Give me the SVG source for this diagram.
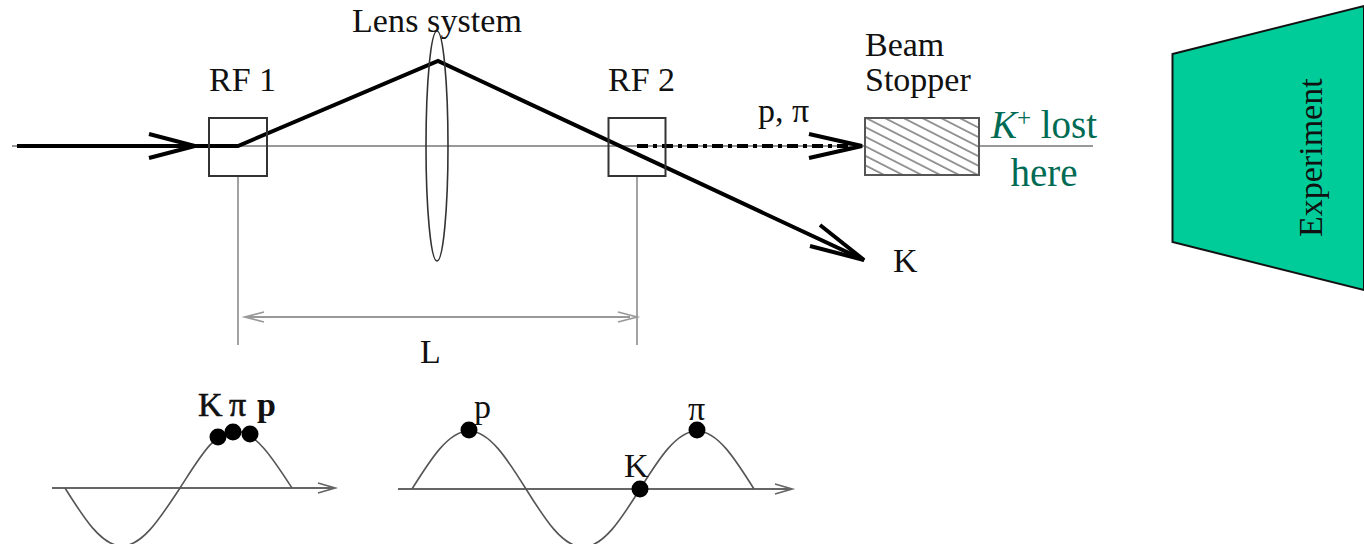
<svg xmlns="http://www.w3.org/2000/svg" width="1364" height="544" viewBox="0 0 1364 544">
<style>
.t{font-family:"Liberation Serif","Times New Roman",serif;font-size:34px;fill:#111}
.g{font-family:"Liberation Serif","Times New Roman",serif;font-size:39px;fill:#006b54;text-anchor:middle}
.thin{fill:none;stroke:#999;stroke-width:1.8}
.box{fill:none;stroke:#333;stroke-width:2}
.lens{fill:none;stroke:#333;stroke-width:1.600}
.beam{fill:none;stroke:#000;stroke-width:4}
.wave{fill:none;stroke:#555;stroke-width:1.600}
.axis{fill:none;stroke:#666;stroke-width:1.800}
.dot{fill:#000}
</style>
<defs>
<pattern id="hatch" patternUnits="userSpaceOnUse" width="16" height="8.500" patternTransform="rotate(27)">
<rect width="16" height="8.500" fill="#fff"/>
<line x1="0" y1="1" x2="16" y2="1" stroke="#777" stroke-width="1.500"/>
</pattern>
</defs>
<g id="connectors">
<path class="thin" d="M12 146H864M980 146H1093"/>
<path class="thin" d="M238 176V345M637 176V345M246 317H630"/>
<path class="thin" d="M264 312L245 317L264 322M618 312L637 317L618 322"/>
<path class="beam" d="M17 146H238L438 61L864 260"/>
<path class="beam" d="M149 134L195 146L149 158M820 225L864 260L810 246"/>
<path d="M637 146H862" fill="none" stroke="#000" stroke-width="3.800" stroke-dasharray="11 5 4 5"/>
<path class="beam" d="M809 134L862 146L809 158"/>
</g>
<g id="rf1"><rect class="box" x="209" y="118" width="58" height="58"/><text class="t" x="209" y="91">RF 1</text></g>
<g id="lens"><ellipse class="lens" cx="437" cy="146" rx="11" ry="115"/><text class="t" x="352" y="32" textLength="170">Lens system</text></g>
<g id="rf2"><rect class="box" x="608.500" y="118" width="57" height="58"/><text class="t" x="608" y="91">RF 2</text></g>
<g id="stopper"><rect x="865" y="118" width="114" height="57" fill="url(#hatch)" stroke="#555" stroke-width="2"/>
<text class="t" x="865" y="56">Beam</text><text class="t" x="865" y="91">Stopper</text></g>
<g id="labels">
<text class="t" x="758" y="122">p, π</text>
<text class="t" x="893" y="272">K</text>
<text class="t" x="420" y="363">L</text>
<text class="g" x="1044" y="138"><tspan font-style="italic">K</tspan><tspan font-size="25" dy="-12">+</tspan><tspan dy="12"> lost</tspan></text>
<text class="g" x="1044" y="186">here</text>
</g>
<g id="experiment"><path d="M1172.500 54L1364 6V290L1172.500 242Z" fill="#00cc99" stroke="#111" stroke-width="2"/>
<text class="t" transform="translate(1322 237) rotate(-90)">Experiment</text></g>
<g id="wave1">
<path class="axis" d="M52 488H335M318 483L335 488L318 493"/>
<path class="wave" d="M65 488C83.600 517.700 101.400 546 122 546C142.600 546 160.400 517.700 180 488C198.600 459.300 214.400 431 235 431C255.600 431 273.400 459.300 292 488"/>
<circle class="dot" cx="218" cy="437" r="8.500"/><circle class="dot" cx="233" cy="432" r="8.500"/><circle class="dot" cx="250" cy="434" r="8.500"/>
<text class="t" x="198" y="416" stroke="#111" stroke-width="0.600">K</text><text class="t" x="229" y="416" stroke="#111" stroke-width="0.600">π</text><text class="t" x="257" y="416" font-weight="bold">p</text>
</g>
<g id="wave2">
<path class="axis" d="M398 489H792M775 484L792 489L775 494"/>
<path class="wave" d="M412 489C430.600 459.300 448.400 431 469 431C489.600 431 507.400 459.300 526 489C544.600 518.700 562.400 547 583 547C603.600 547 621.400 518.700 640 489C658.600 459.300 676.400 431 697 431C717.600 431 735.400 459.300 754 489"/>
<circle class="dot" cx="469" cy="430" r="8.500"/><circle class="dot" cx="640" cy="489" r="8.500"/><circle class="dot" cx="697" cy="430" r="8.500"/>
<text class="t" x="474" y="418">p</text><text class="t" x="624" y="477">K</text><text class="t" x="688" y="420">π</text>
</g>
</svg>
